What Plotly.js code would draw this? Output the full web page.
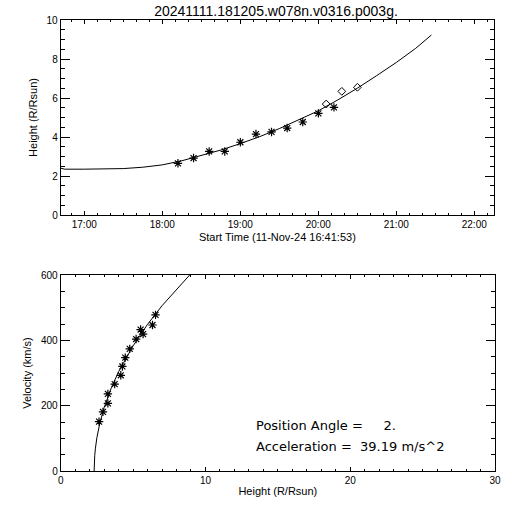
<!DOCTYPE html>
<html><head><meta charset="utf-8">
<script src="https://cdn.plot.ly/plotly-3.0.1.min.js"></script>
<style>html,body{margin:0;padding:0;background:#fff}#chart{width:512px;height:512px}</style>
</head><body><div id="chart"></div>
<script>
const day = '2024-11-11 ';
// Height-time measurements (stars: C2, diamonds: C3)
const c2Times = ['18:12:05','18:24:05','18:36:05','18:48:05','19:00:05','19:12:05','19:24:05','19:36:05','19:48:05','20:00:05','20:12:05'];
const c2Heights = [2.65, 2.92, 3.26, 3.26, 3.73, 4.15, 4.26, 4.46, 4.77, 5.21, 5.52];
const c3Times = ['20:06:07','20:18:07','20:30:07'];
const c3Heights = [5.69, 6.34, 6.55];
// Fit curve
const fitTimes = ['16:41:53','16:45:00','17:00:00','17:15:00','17:30:00','17:45:00','18:00:00','18:15:00','18:30:00','18:45:00','19:00:00','19:15:00','19:30:00','19:45:00','20:00:00','20:15:00','20:30:00','20:45:00','21:00:00','21:15:00','21:27:00'];
const fitHeights = [2.40, 2.35, 2.35, 2.36, 2.38, 2.45, 2.57, 2.78, 3.04, 3.33, 3.66, 4.02, 4.43, 4.88, 5.34, 5.90, 6.50, 7.15, 7.82, 8.55, 9.23];
// Velocity-height points
const velHeights = [2.65, 2.92, 3.26, 3.26, 3.73, 4.15, 4.26, 4.46, 4.77, 5.21, 5.52, 5.69, 6.34, 6.55];
const velValues = [151, 181, 207, 236, 266, 293, 320, 347, 374, 404, 433, 419, 447, 478];
// Velocity fit curve
const vfitHeights = [2.31, 2.32, 2.35, 2.40, 2.50, 2.70, 3.00, 3.50, 4.00, 5.00, 6.00, 7.00, 8.00, 8.93];
const vfitValues = [0, 23, 47, 70, 102, 146, 194, 255, 304, 383, 449, 506, 557, 601];
// Tick labels / texts
const titleText = '20241111.181205.w078n.v0316.p003g.';
const positionAngle = '2.';
const acceleration = '39.19';

const T = a => a.map(s => day + s);
const nb = s => s.replace(/ /g, '\u00a0');
const FONT = 'Liberation Sans, Arial, sans-serif';
const AFONT = 'DejaVu Sans, Liberation Sans, sans-serif';

const star = {symbol: 'asterisk', size: 7, color: '#000', line: {color: '#000', width: 1.2}};
const traces = [
  {x: T(fitTimes), y: fitHeights, mode: 'lines', line: {color: '#000', width: 1}, xaxis: 'x', yaxis: 'y', hoverinfo: 'skip'},
  {x: T(c2Times), y: c2Heights, mode: 'markers', marker: star, xaxis: 'x', yaxis: 'y'},
  {x: T(c3Times), y: c3Heights, mode: 'markers', marker: {symbol: 'diamond-open', size: 6, color: '#000', line: {color: '#000', width: 1}}, xaxis: 'x', yaxis: 'y'},
  {x: vfitHeights, y: vfitValues, mode: 'lines', line: {color: '#000', width: 1}, xaxis: 'x2', yaxis: 'y2', hoverinfo: 'skip'},
  {x: velHeights, y: velValues, mode: 'markers', marker: star, xaxis: 'x2', yaxis: 'y2'}
];

const common = {showline: true, linecolor: '#000', linewidth: 1, mirror: 'ticks', ticks: 'inside', tickcolor: '#000', tickwidth: 1,
  showgrid: false, zeroline: false, tickfont: {family: FONT, size: 10, color: '#000'}};
const tfont = {family: FONT, size: 11, color: '#000'};

const layout = {
  width: 512, height: 512, showlegend: false,
  margin: {l: 0, r: 0, t: 0, b: 0},
  paper_bgcolor: '#fff', plot_bgcolor: '#fff',
  font: {family: FONT, size: 10, color: '#000'},
  title: {text: titleText, x: 276/512, xanchor: 'center', xref: 'container', y: 1 - 11/512, yanchor: 'middle', yref: 'container', font: {family: FONT, size: 14, color: '#000'}},
  xaxis: Object.assign({}, common, {type: 'date', anchor: 'y', domain: [60.7/512, 494/512], range: [day + '16:41:53', day + '22:15:11'],
    dtick: 3600000, tickformat: '%H:%M', ticklen: 4,
    minor: {dtick: 600000, ticks: 'inside', ticklen: 2, tickcolor: '#000', showgrid: false},
    title: {text: 'Start Time (11-Nov-24 16:41:53)', standoff: 4, font: tfont}}),
  yaxis: Object.assign({}, common, {anchor: 'x', domain: [1 - 215/512, 1 - 20/512], range: [0, 10], dtick: 2, ticklen: 9,
    minor: {dtick: 0.5, ticks: 'inside', ticklen: 4.5, tickcolor: '#000', showgrid: false},
    title: {text: 'Height (R/Rsun)', standoff: 6, font: tfont}}),
  xaxis2: Object.assign({}, common, {anchor: 'y2', domain: [60.7/512, 495/512], range: [0, 30], dtick: 10, ticklen: 4,
    minor: {dtick: 1, ticks: 'inside', ticklen: 2, tickcolor: '#000', showgrid: false},
    title: {text: 'Height (R/Rsun)', standoff: 2, font: tfont}}),
  yaxis2: Object.assign({}, common, {anchor: 'x2', domain: [1 - 471/512, 1 - 275/512], range: [0, 600], dtick: 200, ticklen: 9,
    minor: {dtick: 50, ticks: 'inside', ticklen: 4.5, tickcolor: '#000', showgrid: false},
    title: {text: 'Velocity (km/s)', standoff: 7, font: tfont}}),
  annotations: [
    {text: nb('Position Angle =     ' + positionAngle), xref: 'paper', yref: 'paper', x: 254/512, y: 1 - 425/512, xanchor: 'left', yanchor: 'middle', showarrow: false, font: {family: AFONT, size: 13, color: '#000'}},
    {text: nb('Acceleration =  ' + acceleration + ' m/s^2'), xref: 'paper', yref: 'paper', x: 254/512, y: 1 - 446/512, xanchor: 'left', yanchor: 'middle', showarrow: false, font: {family: AFONT, size: 13, color: '#000'}}
  ]
};

Plotly.newPlot('chart', traces, layout, {staticPlot: true, displayModeBar: false});
</script>
</body></html>
